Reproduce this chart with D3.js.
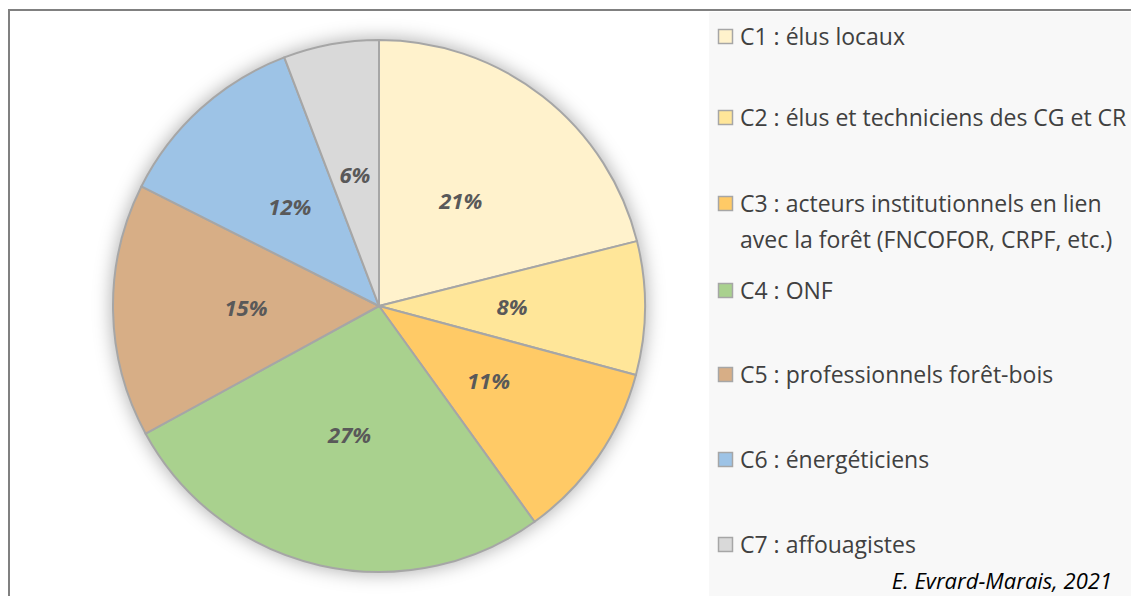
<!DOCTYPE html>
<html>
<head>
<meta charset="utf-8">
<script src="https://cdn.jsdelivr.net/npm/d3@7"></script>
<style>
  body { margin: 0; background: #fff; }
  svg { display: block; font-family: "Open Sans", sans-serif; }
</style>
</head>
<body>
<script>
// categories and shares (%)
var categories = ["C1", "C2", "C3", "C4", "C5", "C6", "C7"];
var labels = [
  ["C1 : élus locaux"],
  ["C2 : élus et techniciens des CG et CR"],
  ["C3 : acteurs institutionnels en lien", "avec la forêt (FNCOFOR, CRPF, etc.)"],
  ["C4 : ONF"],
  ["C5 : professionnels forêt-bois"],
  ["C6 : énergéticiens"],
  ["C7 : affouagistes"]
];
var values = [21.1, 8.1, 10.9, 27.0, 15.4, 11.8, 5.8];
var colors = ["#FFF2CC", "#FFE699", "#FFCA66", "#A9D18E", "#D7AE86", "#9DC3E6", "#D9D9D9"];
var credit = "E. Evrard-Marais, 2021";

var width = 1131, height = 596;
var svg = d3.select("body").append("svg")
            .attr("width", width)
            .attr("height", height);

// soft glow under the pie
var defs = svg.append("defs");
var f = defs.append("filter").attr("id", "glow")
            .attr("x", "-20%").attr("y", "-20%")
            .attr("width", "140%").attr("height", "140%");
f.append("feGaussianBlur").attr("in", "SourceAlpha").attr("stdDeviation", 9).attr("result", "b");
f.append("feFlood").attr("flood-color", "#000").attr("flood-opacity", 0.3);
f.append("feComposite").attr("in2", "b").attr("operator", "in");

// outer frame
svg.append("rect")
   .attr("x", 9).attr("y", 10)
   .attr("width", width + 10).attr("height", height + 10)
   .attr("fill", "#fff")
   .attr("stroke", "#808080")
   .attr("stroke-width", 2);

// legend panel
svg.append("rect")
   .attr("x", 709).attr("y", 12)
   .attr("width", width - 709).attr("height", height - 12)
   .attr("fill", "#F8F8F8");

var cx = 379, cy = 306, r = 266;
var total = d3.sum(values);

var pie = d3.pie().sort(null).value(d => d);
var arcs = pie(values);
var arc = d3.arc().innerRadius(0).outerRadius(r);

var g = svg.append("g").attr("transform", `translate(${cx},${cy})`);

g.append("circle").attr("r", r + 2).attr("filter", "url(#glow)");

g.selectAll("path.slice")
 .data(arcs)
 .enter()
 .append("path")
 .attr("class", "slice")
 .attr("d", arc)
 .attr("fill", (d, i) => colors[i])
 .attr("stroke", "#A6A6A6")
 .attr("stroke-width", 2)
 .attr("stroke-linejoin", "round");

g.selectAll("text.pct")
 .data(arcs)
 .enter()
 .append("text")
 .attr("class", "pct")
 .attr("x", d => arc.centroid(d)[0])
 .attr("y", d => arc.centroid(d)[1])
 .attr("dy", "0.35em")
 .attr("text-anchor", "middle")
 .attr("font-size", 22)
 .attr("font-weight", "bold")
 .attr("font-style", "italic")
 .attr("fill", "#595959")
 .text(d => Math.round(d.value / total * 100) + "%");

// legend
var legendY = [37, 118, 204, 291, 375, 460, 545];
var lg = svg.selectAll("g.leg")
            .data(categories)
            .enter()
            .append("g")
            .attr("class", "leg")
            .attr("transform", (d, i) => `translate(718,${legendY[i]})`);

lg.append("rect")
  .attr("x", 0.5).attr("y", -7.5)
  .attr("width", 14).attr("height", 14)
  .attr("fill", (d, i) => colors[i])
  .attr("stroke", "#A6A6A6")
  .attr("stroke-width", 1.5);

lg.each(function(d, i) {
  var t = d3.select(this).append("text")
            .attr("x", 22)
            .attr("font-size", 23)
            .attr("fill", "#404040");
  labels[i].forEach((line, j) => {
    t.append("tspan").attr("x", 22).attr("y", j * 36).attr("dy", "0.35em").text(line);
  });
});

svg.append("text")
   .attr("x", 1112).attr("y", 589)
   .attr("text-anchor", "end")
   .attr("font-size", 22)
   .attr("font-style", "italic")
   .attr("fill", "#000")
   .text(credit);
</script>
</body>
</html>
